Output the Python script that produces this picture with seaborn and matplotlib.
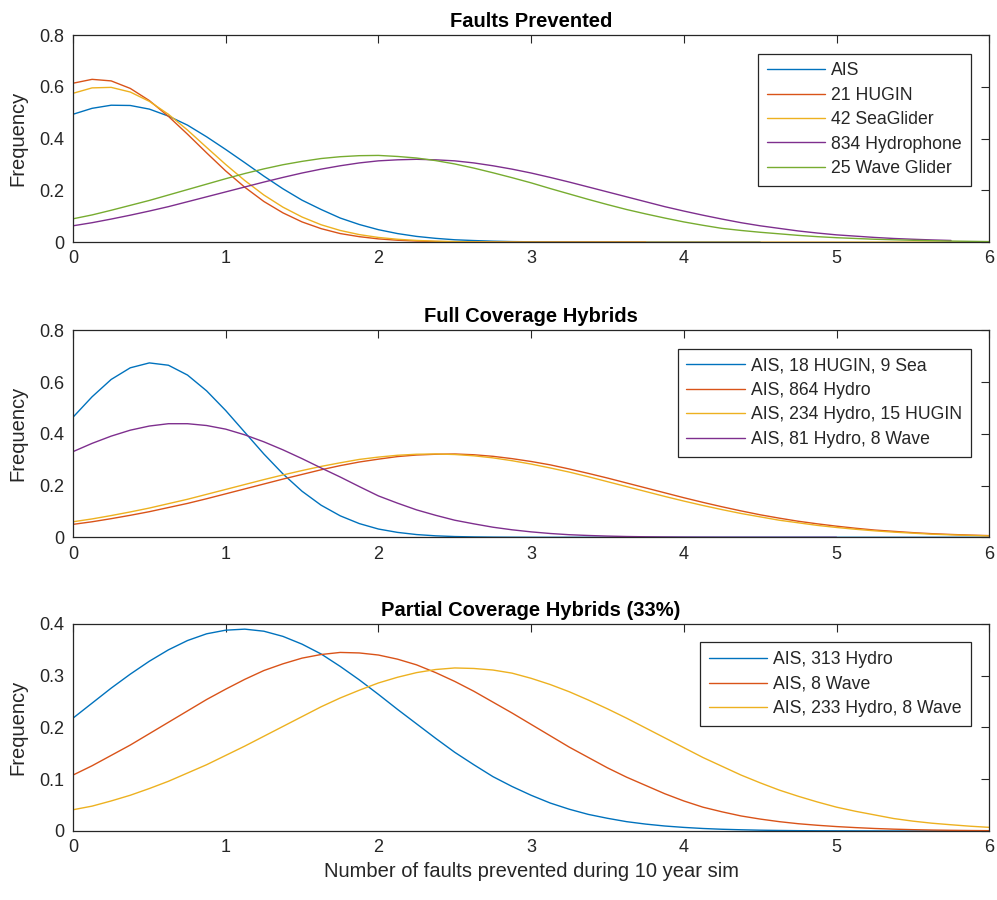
import numpy as np
import pandas as pd
import matplotlib
matplotlib.use('Agg')
import matplotlib.pyplot as plt
import seaborn as sns

# x positions of the sampled curves (faults prevented), every 0.125
x_grid = [0, 0.125, 0.25, 0.375, 0.5, 0.625, 0.75, 0.875, 1, 1.125, 1.25, 1.375,
          1.5, 1.625, 1.75, 1.875, 2, 2.125, 2.25, 2.375, 2.5, 2.625, 2.75, 2.875,
          3, 3.125, 3.25, 3.375, 3.5, 3.625, 3.75, 3.875, 4, 4.125, 4.25, 4.375,
          4.5, 4.625, 4.75, 4.875, 5, 5.125, 5.25, 5.375, 5.5, 5.625, 5.75, 5.875, 6]

# panel 1: faults prevented
fp_names = ['AIS', '21 HUGIN', '42 SeaGlider', '834 Hydrophone', '25 Wave Glider']
fp_ais = [0.494, 0.517, 0.529, 0.528, 0.514, 0.487, 0.452, 0.407, 0.358, 0.307,
          0.255, 0.206, 0.162, 0.126, 0.093, 0.068, 0.048, 0.033, 0.022, 0.0145,
          0.009, 0.006, 0.0035, 0.002, 0.0012, 0.0007, 0.0004, 0.0002, 0.0001,
          0, 0, 0, 0, 0, 0, 0, 0]
fp_hugin = [0.614, 0.629, 0.623, 0.594, 0.547, 0.486, 0.417, 0.345, 0.275, 0.212,
            0.157, 0.113, 0.078, 0.052, 0.033, 0.021, 0.0124, 0.0072, 0.004, 0.0022,
            0.0011, 0.0006, 0.0003, 0.0002, 0, 0, 0, 0, 0, 0, 0]
fp_seaglider = [0.575, 0.596, 0.598, 0.580, 0.544, 0.494, 0.433, 0.366, 0.300, 0.238,
                0.182, 0.135, 0.097, 0.067, 0.045, 0.029, 0.018, 0.011, 0.0064, 0.0036,
                0.002, 0.001, 0.0005, 0.0003, 0.0001, 0, 0, 0, 0, 0, 0, 0, 0, 0, 0, 0,
                0, 0, 0, 0, 0, 0, 0, 0, 0, 0, 0, 0, 0]
fp_hydro = [0.063, 0.075, 0.089, 0.104, 0.120, 0.137, 0.156, 0.175, 0.194, 0.213,
            0.232, 0.250, 0.267, 0.282, 0.295, 0.306, 0.314, 0.318, 0.320, 0.318,
            0.314, 0.306, 0.295, 0.282, 0.267, 0.250, 0.232, 0.213, 0.194, 0.175,
            0.156, 0.137, 0.120, 0.104, 0.089, 0.075, 0.063, 0.053, 0.043, 0.035,
            0.028, 0.023, 0.018, 0.014, 0.011, 0.0084, 0.0063]
fp_wave = [0.090, 0.105, 0.123, 0.142, 0.161, 0.182, 0.203, 0.224, 0.245, 0.265,
           0.283, 0.299, 0.312, 0.323, 0.330, 0.334, 0.335, 0.331, 0.325, 0.315,
           0.302, 0.286, 0.268, 0.249, 0.229, 0.207, 0.186, 0.165, 0.145, 0.126,
           0.109, 0.093, 0.078, 0.065, 0.053, 0.045, 0.038, 0.032, 0.026, 0.021,
           0.017, 0.014, 0.011, 0.009, 0.007, 0.0055, 0.004, 0.003, 0.002]

# panel 2: full coverage hybrids
fc_names = ['AIS, 18 HUGIN, 9 Sea', 'AIS, 864 Hydro', 'AIS, 234 Hydro, 15 HUGIN',
            'AIS, 81 Hydro, 8 Wave']
fc_hugin_sea = [0.464, 0.543, 0.610, 0.655, 0.674, 0.665, 0.627, 0.566, 0.490, 0.406,
                0.322, 0.245, 0.178, 0.124, 0.083, 0.053, 0.032, 0.019, 0.0106, 0.0057,
                0.0029, 0.0015, 0.0007, 0.0003, 0.0001, 0, 0, 0, 0, 0, 0, 0, 0, 0, 0,
                0, 0, 0, 0, 0, 0, 0, 0, 0, 0, 0, 0, 0, 0]
fc_hydro = [0.050, 0.060, 0.072, 0.085, 0.099, 0.115, 0.131, 0.149, 0.168, 0.187,
            0.206, 0.225, 0.243, 0.261, 0.277, 0.291, 0.302, 0.312, 0.318, 0.321,
            0.322, 0.319, 0.313, 0.304, 0.293, 0.280, 0.264, 0.247, 0.229, 0.210,
            0.191, 0.172, 0.153, 0.135, 0.118, 0.102, 0.087, 0.074, 0.062, 0.052,
            0.043, 0.035, 0.028, 0.023, 0.018, 0.014, 0.011, 0.0085, 0.0065]
fc_hydro_hugin = [0.060, 0.071, 0.084, 0.098, 0.113, 0.130, 0.147, 0.166, 0.185, 0.204,
                  0.223, 0.241, 0.258, 0.274, 0.288, 0.301, 0.310, 0.317, 0.321, 0.322,
                  0.320, 0.315, 0.307, 0.296, 0.283, 0.268, 0.252, 0.234, 0.215, 0.196,
                  0.177, 0.158, 0.140, 0.123, 0.107, 0.092, 0.079, 0.066, 0.056, 0.046,
                  0.038, 0.031, 0.025, 0.020, 0.016, 0.012, 0.0095, 0.0073, 0.0055]
fc_hydro_wave = [0.331, 0.363, 0.391, 0.414, 0.430, 0.439, 0.439, 0.432, 0.418, 0.396,
                 0.369, 0.338, 0.304, 0.268, 0.233, 0.196, 0.160, 0.132, 0.106, 0.085,
                 0.066, 0.052, 0.039, 0.029, 0.021, 0.0147, 0.010, 0.007, 0.0047, 0.003,
                 0.002, 0.0013, 0.0008, 0.0005, 0.0003, 0.0002, 0.0001, 0, 0, 0, 0]

# panel 3: partial coverage hybrids
pc_names = ['AIS, 313 Hydro', 'AIS, 8 Wave', 'AIS, 233 Hydro, 8 Wave']
pc_hydro = [0.218, 0.247, 0.276, 0.303, 0.328, 0.350, 0.368, 0.381, 0.388, 0.390,
            0.386, 0.376, 0.361, 0.342, 0.318, 0.292, 0.264, 0.235, 0.207, 0.179,
            0.152, 0.128, 0.105, 0.086, 0.069, 0.054, 0.042, 0.032, 0.0245, 0.018,
            0.0133, 0.0096, 0.0069, 0.0048, 0.0033, 0.0023, 0.0015, 0.001, 0.0006, 0.0004,
            0.0003, 0.0002, 0.0001, 0, 0, 0, 0, 0, 0]
pc_wave = [0.108, 0.126, 0.146, 0.166, 0.188, 0.210, 0.232, 0.254, 0.274, 0.293,
           0.310, 0.323, 0.334, 0.341, 0.345, 0.344, 0.340, 0.332, 0.321, 0.306,
           0.289, 0.270, 0.249, 0.228, 0.206, 0.184, 0.162, 0.142, 0.122, 0.104,
           0.088, 0.072, 0.058, 0.046, 0.037, 0.029, 0.023, 0.018, 0.014, 0.011,
           0.0085, 0.0065, 0.0048, 0.0035, 0.0025, 0.0018, 0.0013, 0.0009, 0.0006]
pc_hydro_wave = [0.041, 0.048, 0.058, 0.069, 0.082, 0.096, 0.112, 0.128, 0.146, 0.164,
                 0.183, 0.202, 0.221, 0.240, 0.257, 0.272, 0.286, 0.297, 0.306, 0.312,
                 0.315, 0.314, 0.311, 0.305, 0.295, 0.283, 0.269, 0.253, 0.236, 0.218,
                 0.199, 0.180, 0.161, 0.142, 0.125, 0.108, 0.093, 0.079, 0.067, 0.056,
                 0.046, 0.038, 0.031, 0.024, 0.019, 0.015, 0.012, 0.0092, 0.007]

matlab_colors = ['#0072BD', '#D95319', '#EDB120', '#7E2F8E', '#77AC30']
dark = '#262626'

sns.set_theme(style='white')
plt.rcParams['font.family'] = ['Liberation Sans', 'DejaVu Sans']

panels = [
    ('Faults Prevented', fp_names, [fp_ais, fp_hugin, fp_seaglider, fp_hydro, fp_wave],
     0.8, [0, 0.2, 0.4, 0.6, 0.8]),
    ('Full Coverage Hybrids', fc_names, [fc_hugin_sea, fc_hydro, fc_hydro_hugin, fc_hydro_wave],
     0.8, [0, 0.2, 0.4, 0.6, 0.8]),
    ('Partial Coverage Hybrids (33%)', pc_names, [pc_hydro, pc_wave, pc_hydro_wave],
     0.4, [0, 0.1, 0.2, 0.3, 0.4]),
]

fig = plt.figure(figsize=(9.97, 9.0), dpi=100)
bottoms = [0.731, 0.403, 0.0767]

for (title, names, series, ymax, yticks), bot in zip(panels, bottoms):
    ax = fig.add_axes([0.0732, bot, 0.919, 0.230])
    rows = []
    for name, vals in zip(names, series):
        for xv, yv in zip(x_grid[:len(vals)], vals):
            rows.append({'x': xv, 'y': yv, 'name': name})
    df = pd.DataFrame(rows)
    sns.lineplot(data=df, x='x', y='y', hue='name', hue_order=names,
                 palette=matlab_colors[:len(names)], estimator=None, sort=False,
                 linewidth=1.0, ax=ax, legend=False)
    ax.set_xlim(0, 6)
    ax.set_ylim(0, ymax)
    ax.set_xticks(range(7))
    ax.set_yticks(yticks)
    ax.set_yticklabels([f'{v:g}' for v in yticks])
    ax.tick_params(direction='in', top=True, right=True, length=6, width=0.8,
                   colors=dark, labelsize=13, pad=6)
    for sp in ax.spines.values():
        sp.set_color(dark)
        sp.set_linewidth(0.9)
    ax.set_title(title, fontweight='bold', fontsize=14.5, pad=6, color='black')
    ax.set_xlabel('')
    ax.set_ylabel('Frequency', fontsize=14.5, color=dark)
    ax.yaxis.set_label_coords(-0.05, 0.5)
    leg = ax.legend(ax.lines, names, loc='upper right', fontsize=12.7, handlelength=3.3,
                    handletextpad=0.35, labelspacing=0.42, borderaxespad=1.05,
                    borderpad=0.5, fancybox=False, framealpha=1, edgecolor=dark)
    leg.get_frame().set_linewidth(0.9)
    for t in leg.get_texts():
        t.set_color(dark)

ax.set_xlabel('Number of faults prevented during 10 year sim', fontsize=14.5, color=dark)

fig.savefig('out.png', dpi=100)
